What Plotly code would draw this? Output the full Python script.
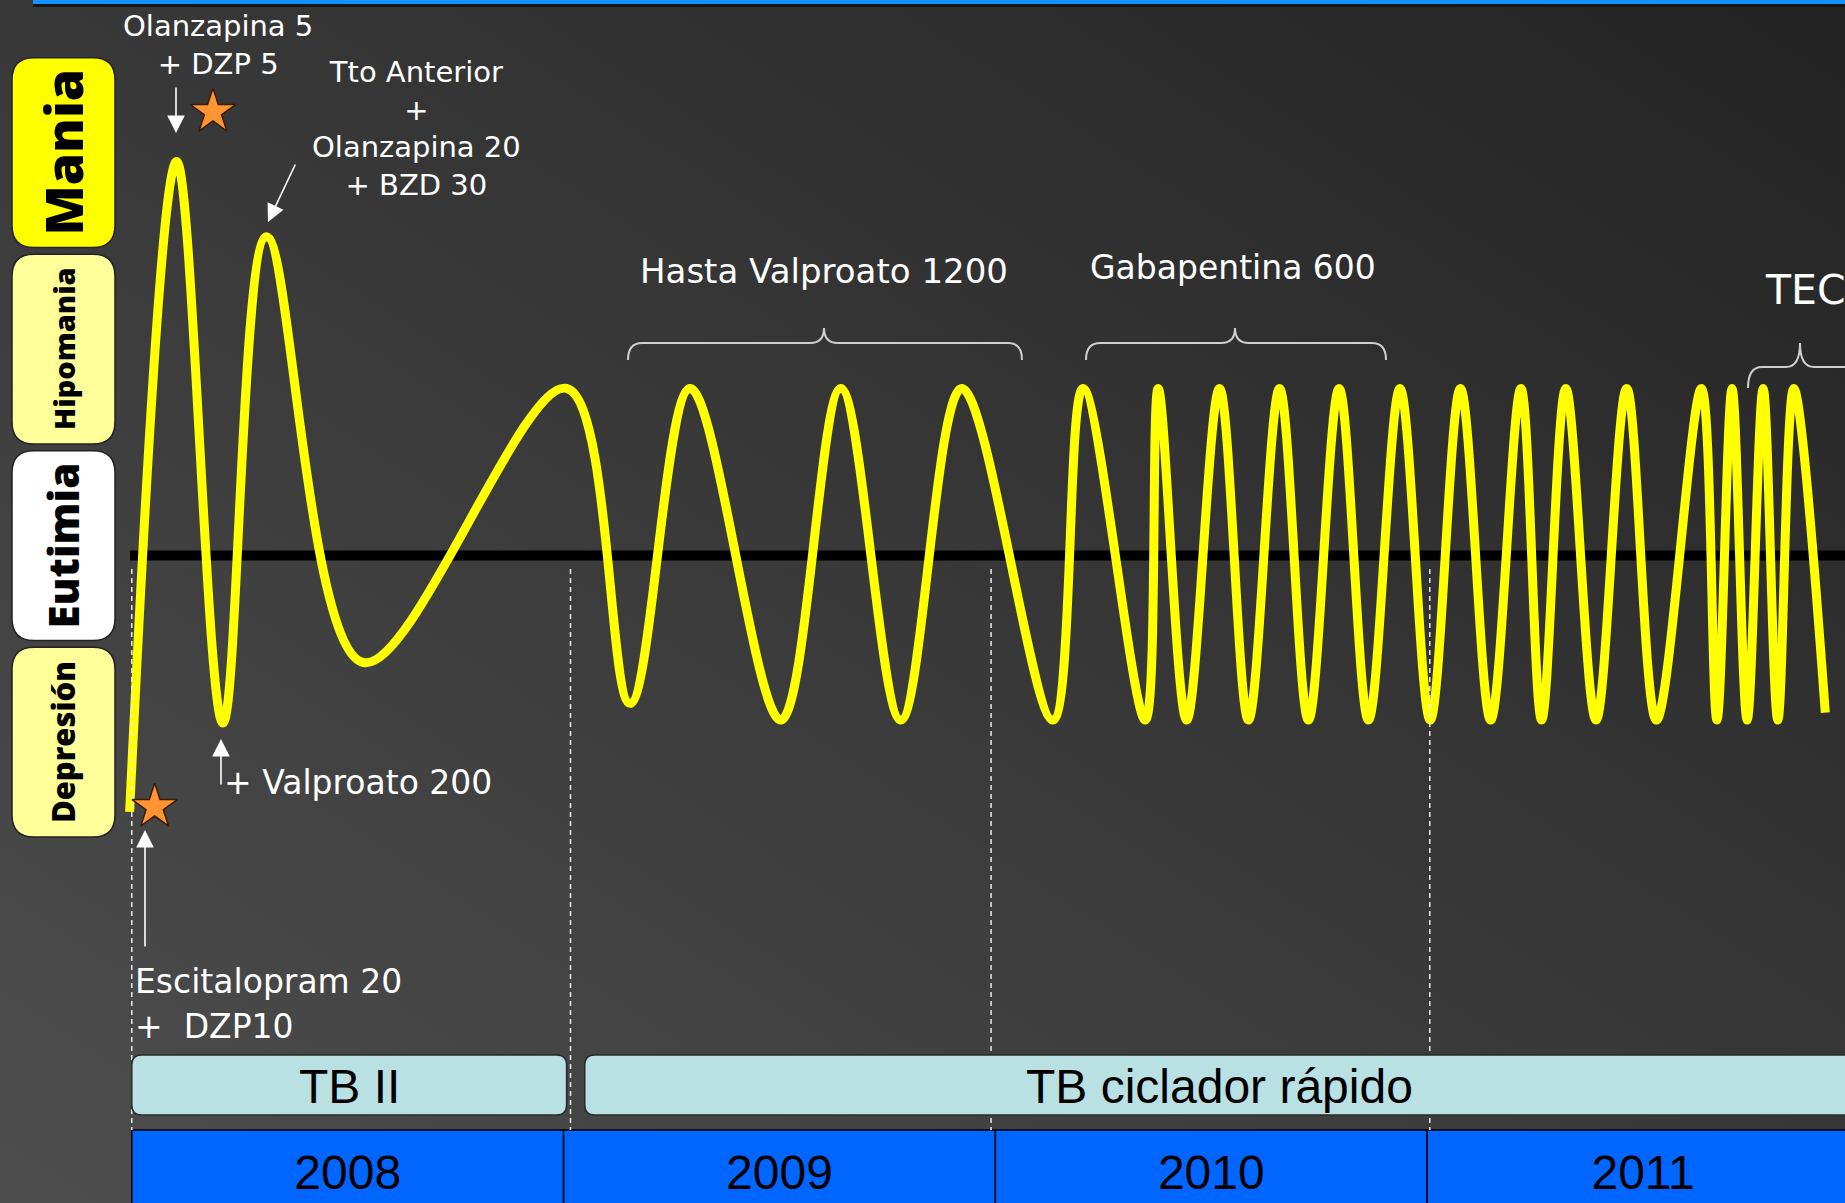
import base64
import plotly.graph_objects as go

# ---------------- data ----------------
mood_levels = ["Mania", "Hipomania", "Eutimia", "Depresión"]
mood_level_values = [2, 1, 0, -1]

# mood curve: time in years, mood in level units (Eutimia baseline = 0)
curve_t = [2007.995, 2008.104, 2008.211, 2008.312, 2008.536, 2009.007,
           2009.154, 2009.293, 2009.503, 2009.642, 2009.781, 2009.922, 2010.133,
           2010.203, 2010.347, 2010.377, 2010.443, 2010.519, 2010.586, 2010.658,
           2010.725, 2010.796, 2010.864, 2010.937, 2011.007, 2011.077, 2011.147,
           2011.217, 2011.265, 2011.321, 2011.391, 2011.462, 2011.531, 2011.635,
           2011.671, 2011.706, 2011.741, 2011.778, 2011.812, 2011.849, 2011.922]
curve_mood = [-1.305, 2.005, -0.853, 1.622, -0.545, 0.850,
              -0.753, 0.850, -0.838, 0.850, -0.838, 0.850, -0.838,
              0.850, -0.838, 0.850, -0.838, 0.850, -0.838, 0.850,
              -0.838, 0.850, -0.838, 0.850, -0.838, 0.850, -0.838,
              0.850, -0.838, 0.850, -0.838, 0.850, -0.838, 0.850,
              -0.838, 0.850, -0.838, 0.850, -0.838, 0.850, -0.800]

years = [2008, 2009, 2010, 2011]
phases = ["TB II", "TB ciclador rápido"]
phase_start = [2008.0, 2009.049]
phase_end = [2009.007, 2011.99]
period_lines = [2008.0, 2009.016, 2009.99, 2011.006]

star_t = [2008.188, 2008.053]
star_mood = [2.257, -1.280]

# ---------------- geometry helpers (pixel <-> axis) ----------------
W, H = 1845, 1203
X0 = 2007.6948          # axis value at left edge
PXY = 431.8             # pixels per year
YTOP = 2.8265           # axis value at top edge
PXU = 196.5             # pixels per mood unit


def xd(px):
    return X0 + px / PXY


def yd(py):
    return YTOP - py / PXU


def rrect(x0, x1, y0, y1, r):
    rx, ry = r / PXY, r / PXU
    return (f"M{x0+rx},{y1} L{x1-rx},{y1} Q{x1},{y1} {x1},{y1-ry} L{x1},{y0+ry} "
            f"Q{x1},{y0} {x1-rx},{y0} L{x0+rx},{y0} Q{x0},{y0} {x0},{y0+ry} "
            f"L{x0},{y1-ry} Q{x0},{y1} {x0+rx},{y1} Z")


def brace(x0, xm, x1, yb, yh, ytip, r=14):
    p = [(x0, yb), (x0, yh), (x0 + r, yh), (xm - r, yh), (xm, yh), (xm, ytip),
         (xm, yh), (xm + r, yh), (x1 - r, yh), (x1, yh), (x1, yb)]
    q = [(xd(a), yd(b)) for a, b in p]
    return (f"M{q[0][0]},{q[0][1]} Q{q[1][0]},{q[1][1]} {q[2][0]},{q[2][1]} "
            f"L{q[3][0]},{q[3][1]} Q{q[4][0]},{q[4][1]} {q[5][0]},{q[5][1]} "
            f"Q{q[6][0]},{q[6][1]} {q[7][0]},{q[7][1]} L{q[8][0]},{q[8][1]} "
            f"Q{q[9][0]},{q[9][1]} {q[10][0]},{q[10][1]}")


fig = go.Figure()

# curve
fig.add_trace(go.Scatter(x=curve_t, y=curve_mood, mode="lines",
                         line=dict(color="#ffff00", width=9, shape="spline", smoothing=1.0),
                         hoverinfo="skip"))

# stars
fig.add_trace(go.Scatter(x=star_t, y=star_mood, mode="markers",
                         marker=dict(symbol="star", size=34, color="#ff9433",
                                     line=dict(color="#3a1a00", width=1.5)),
                         hoverinfo="skip"))

# year blocks
fig.add_trace(go.Bar(x=[y + 0.5 for y in years], y=[-0.43] * len(years), base=yd(1130),
                     width=1, marker=dict(color="#0066ff", line=dict(color="#000000", width=1.5)),
                     text=[str(y) for y in years], textposition="inside",
                     insidetextanchor="middle",
                     textfont=dict(family="Liberation Sans, Arial, sans-serif", size=48, color="#000000"),
                     hoverinfo="skip"))

shapes = []
shapes.append(dict(type="line", xref="x", yref="y", x0=xd(130), x1=xd(W + 10), y0=0, y1=0,
                   line=dict(color="#000000", width=10), layer="below"))
for t in period_lines:
    shapes.append(dict(type="line", xref="x", yref="y", x0=t, x1=t, y0=yd(569), y1=yd(1130),
                       line=dict(color="#e8e8e8", width=1.5, dash="5px,4px"), layer="above"))
for a, b in zip(phase_start, phase_end):
    shapes.append(dict(type="path", xref="x", yref="y", path=rrect(a, b, yd(1115), yd(1055), 10),
                       fillcolor="#b9e0e3", line=dict(color="#2a2a2a", width=1.5), layer="above"))
box_fill = {"Mania": "#ffff00", "Hipomania": "#ffff99", "Eutimia": "#ffffff", "Depresión": "#ffff99"}
for name, lv in zip(mood_levels, mood_level_values):
    c = lv + 0.05
    shapes.append(dict(type="path", xref="x", yref="y",
                       path=rrect(xd(12), xd(115), c - 0.483, c + 0.483, 22),
                       fillcolor=box_fill[name], line=dict(color="#222222", width=1.5), layer="above"))
for br in [(628, 824, 1022, 360, 343, 328), (1086, 1235, 1386, 360, 343, 328),
           (1748, 1800, 1900, 388, 367, 343)]:
    shapes.append(dict(type="path", xref="x", yref="y", path=brace(*br),
                       line=dict(color="#cfcfcf", width=2), layer="above"))
shapes.append(dict(type="rect", xref="paper", yref="paper", x0=33 / W, x1=1, y0=1 - 4 / H, y1=1,
                   fillcolor="#1490ff", line=dict(width=0)))
shapes.append(dict(type="rect", xref="paper", yref="paper", x0=33 / W, x1=1, y0=1 - 7 / H, y1=1 - 4 / H,
                   fillcolor="#151515", line=dict(width=0)))

ann = []
label_font = "Open Sans, DejaVu Sans, sans-serif"
label_sizes = {"Mania": 52, "Hipomania": 29, "Eutimia": 42, "Depresión": 31}
for name, lv in zip(mood_levels, mood_level_values):
    ann.append(dict(x=xd(63), y=lv + 0.05, xref="x", yref="y", text=name,
                    textangle=-90, showarrow=False,
                    font=dict(family=label_font, size=label_sizes[name], color="#000000",
                              weight=800)))

wf = "DejaVu Sans, Verdana, sans-serif"
ann += [
    dict(x=xd(218), y=yd(44.5), text="Olanzapina 5<br>+ DZP 5", font=dict(family=wf, size=29, color="white")),
    dict(x=xd(416), y=yd(128.5), text="Tto Anterior<br>+<br>Olanzapina 20<br>+ BZD 30",
         font=dict(family=wf, size=29, color="white")),
    dict(x=xd(824), y=yd(271), text="Hasta Valproato 1200", font=dict(family=wf, size=34, color="white")),
    dict(x=xd(1233), y=yd(267), text="Gabapentina 600", font=dict(family=wf, size=33, color="white")),
    dict(x=xd(1763), y=yd(290), text="TEC", xanchor="left", font=dict(family=wf, size=41, color="white")),
    dict(x=xd(222), y=yd(782), text="+ Valproato 200", xanchor="left", font=dict(family=wf, size=33, color="white")),
    dict(x=xd(133), y=yd(981), text="Escitalopram 20", xanchor="left", font=dict(family=wf, size=33, color="white")),
    dict(x=xd(133), y=yd(1026), text="+\u00a0 DZP10", xanchor="left", font=dict(family=wf, size=33, color="white")),
]
for a in ann:
    a.setdefault("xref", "x")
    a.setdefault("yref", "y")
    a.setdefault("showarrow", False)

for name, a, b in zip(phases, phase_start, phase_end):
    ann.append(dict(x=(a + b) / 2, y=yd(1086), xref="x", yref="y", text=name, showarrow=False,
                    font=dict(family="Liberation Sans, Arial, sans-serif", size=48, color="#000000")))

for (hx, hy), (tx, ty) in [((176, 133), (176, 86)), ((268, 222), (296, 163)),
                           ((221, 739), (221, 786)), ((145, 830), (145, 948))]:
    ann.append(dict(x=xd(hx), y=yd(hy), xref="x", yref="y", ax=tx - hx, ay=ty - hy, text="",
                    showarrow=True, arrowhead=2, arrowsize=2.2, arrowwidth=1.6, arrowcolor="white",
                    standoff=0, startstandoff=0))

svg = (f'<svg xmlns="http://www.w3.org/2000/svg" width="{W}" height="{H}" viewBox="0 0 {W} {H}" '
       f'preserveAspectRatio="none"><defs><linearGradient id="g" x1="0" y1="1" x2="1" y2="0">'
       f'<stop offset="0" stop-color="#4e4e4e"/><stop offset="1" stop-color="#232323"/>'
       f'</linearGradient></defs><rect width="{W}" height="{H}" fill="url(#g)"/></svg>')
uri = "data:image/svg+xml;base64," + base64.b64encode(svg.encode()).decode()

fig.update_layout(
    width=W, height=H, margin=dict(l=0, r=0, t=0, b=0),
    paper_bgcolor="#393939", plot_bgcolor="rgba(0,0,0,0)",
    showlegend=False,
    xaxis=dict(range=[xd(0), xd(W)], visible=False, fixedrange=True),
    yaxis=dict(range=[yd(H), yd(0)], visible=False, fixedrange=True),
    shapes=shapes, annotations=ann,
    images=[dict(source=uri, xref="paper", yref="paper", x=0, y=1, sizex=1, sizey=1,
                 sizing="stretch", layer="below", xanchor="left", yanchor="top")],
)

fig.write_html("out.html", config={"displayModeBar": False},
               post_script="document.body.style.margin='0px';document.body.style.padding='0px';"
                           "document.body.style.overflow='hidden';")
